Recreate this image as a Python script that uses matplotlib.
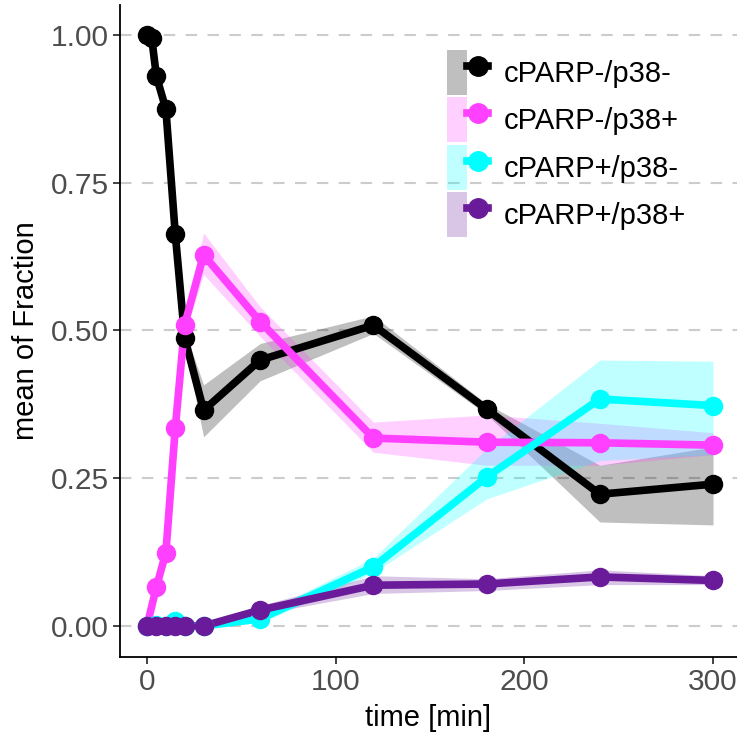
import matplotlib
matplotlib.use("Agg")
import matplotlib.pyplot as plt
from matplotlib.patches import Patch
from matplotlib.lines import Line2D
from matplotlib.legend_handler import HandlerTuple

plt.rcParams["font.family"] = ["Liberation Sans", "DejaVu Sans"]

# data
time_black = [0, 2.5, 5, 10, 15, 20, 30, 60, 120, 180, 240, 300]
time = [0, 5, 10, 15, 20, 30, 60, 120, 180, 240, 300]

black_mean = [1.00, 0.995, 0.93, 0.875, 0.663, 0.487, 0.365, 0.45, 0.509, 0.367, 0.223, 0.24]
black_lo = [0.995, 0.99, 0.92, 0.865, 0.65, 0.475, 0.32, 0.415, 0.495, 0.358, 0.176, 0.171]
black_hi = [1.00, 1.00, 0.94, 0.885, 0.675, 0.50, 0.408, 0.478, 0.525, 0.376, 0.272, 0.303]

pink_mean = [0.0, 0.066, 0.124, 0.335, 0.51, 0.628, 0.515, 0.318, 0.311, 0.31, 0.306]
pink_lo = [0.0, 0.06, 0.115, 0.32, 0.495, 0.595, 0.49, 0.294, 0.272, 0.272, 0.29]
pink_hi = [0.0, 0.072, 0.133, 0.35, 0.525, 0.665, 0.54, 0.345, 0.357, 0.343, 0.327]

cyan_mean = [0.0, 0.002, 0.0, 0.008, 0.0, 0.0, 0.012, 0.10, 0.252, 0.384, 0.373]
cyan_lo = [0.0, 0.0, 0.0, 0.003, 0.0, 0.0, 0.005, 0.09, 0.215, 0.28, 0.29]
cyan_hi = [0.0, 0.005, 0.0, 0.013, 0.0, 0.0, 0.02, 0.115, 0.30, 0.45, 0.448]

purple_mean = [0.0, 0.0, 0.0, 0.0, 0.0, 0.0, 0.027, 0.069, 0.071, 0.083, 0.077]
purple_lo = [0.0, 0.0, 0.0, 0.0, 0.0, 0.0, 0.02, 0.055, 0.06, 0.07, 0.07]
purple_hi = [0.0, 0.0, 0.0, 0.0, 0.0, 0.0, 0.035, 0.085, 0.08, 0.095, 0.085]

labels = ["cPARP-/p38-", "cPARP-/p38+", "cPARP+/p38-", "cPARP+/p38+"]
colors = ["#000000", "#FF40FF", "#00FFFF", "#6A1B9A"]
series = [
    (time_black, black_mean, black_lo, black_hi),
    (time, pink_mean, pink_lo, pink_hi),
    (time, cyan_mean, cyan_lo, cyan_hi),
    (time, purple_mean, purple_lo, purple_hi),
]
band_alpha = 0.25
fs = 21.5

fig = plt.figure(figsize=(7.37, 7.34), dpi=100)
ax = fig.add_axes([120 / 737, 77 / 734, 617 / 737, 652 / 734])

for (t, m, lo, hi), c in zip(series, colors):
    ax.fill_between(t, lo, hi, color=c, alpha=band_alpha, linewidth=0, zorder=1)
for (t, m, lo, hi), c in zip(series, colors):
    ax.plot(t, m, color=c, lw=5.5, solid_joinstyle="miter", zorder=2)
for (t, m, lo, hi), c in zip(series, colors):
    ax.plot(t, m, "o", color=c, ms=13, zorder=3)

ax.set_xlim(-14.3, 312.7)
ax.set_ylim(-0.0525, 1.0508)
ax.set_xticks([0, 100, 200, 300])
ax.set_yticks([0, 0.25, 0.5, 0.75, 1.0])
ax.set_yticklabels(["0.00", "0.25", "0.50", "0.75", "1.00"])
ax.grid(axis="y", color="#cccccc", linestyle=(0, (5.5, 5)), lw=1.5, zorder=0)
ax.set_axisbelow(True)
for s in ["top", "right"]:
    ax.spines[s].set_visible(False)
for s in ["left", "bottom"]:
    ax.spines[s].set_linewidth(1.3)
ax.tick_params(labelsize=fs, colors="#4d4d4d", length=5, width=1.3, pad=3)
ax.tick_params(axis="both", color="#333333")
ax.set_xlabel("time [min]", fontsize=21, labelpad=6)
ax.set_ylabel("mean of Fraction", fontsize=21, labelpad=8)

handles = [
    (Patch(facecolor=c, alpha=band_alpha, lw=0), Line2D([], [], color=c, lw=5.5, marker="o", ms=14))
    for c in colors
]
ax.legend(handles, labels, handler_map={tuple: HandlerTuple(ndivide=None)},
          loc="upper left", bbox_to_anchor=(447 / 737, 1 - 50 / 734),
          bbox_transform=fig.transFigure, frameon=False, fontsize=21,
          handlelength=1.4, handleheight=2.0, labelspacing=0.08,
          handletextpad=0.55, borderpad=0, borderaxespad=0)

fig.savefig("out.png", dpi=100)
